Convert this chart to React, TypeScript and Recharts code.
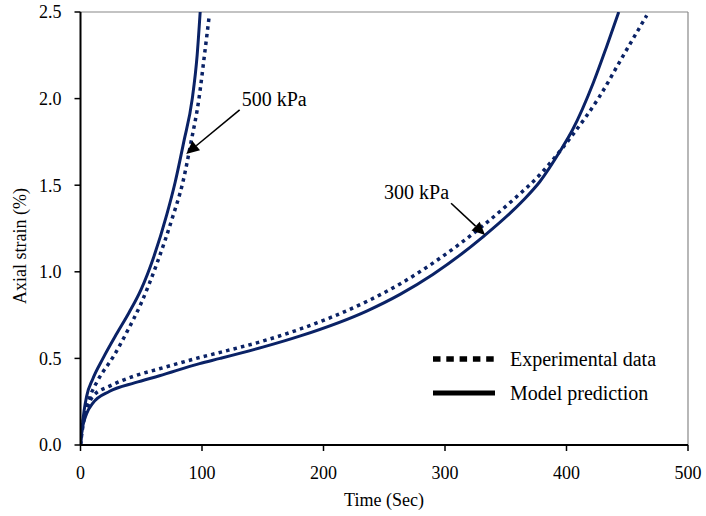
import React from 'react';
import { LineChart, Line, XAxis, YAxis, ReferenceLine, Customized } from 'recharts';

// Time (Sec) and axial strain (%)
const exp300Time = [0, 1, 5, 10, 24, 45, 65, 98, 115, 150, 181, 236, 263, 290, 331, 356, 378, 395, 405, 427, 446, 466];
const exp300Strain = [0, 0.08, 0.2, 0.28, 0.34, 0.4, 0.44, 0.505, 0.535, 0.6, 0.67, 0.83, 0.93, 1.05, 1.265, 1.415, 1.56, 1.7, 1.79, 2.01, 2.24, 2.48];

const mod300Time = [0, 1, 5, 10, 24, 45, 65, 98, 115, 150, 181, 236, 263, 290, 331, 364, 378, 395, 405, 422, 433, 443];
const mod300Strain = [0, 0.07, 0.18, 0.24, 0.31, 0.36, 0.4, 0.47, 0.5, 0.565, 0.63, 0.775, 0.87, 0.985, 1.2, 1.41, 1.52, 1.7, 1.82, 2.09, 2.3, 2.5];

const exp500Time = [0, 1, 3, 5, 7.8, 14.4, 27, 38, 50, 63, 76, 84, 91, 97.5, 102, 106];
const exp500Strain = [0, 0.06, 0.15, 0.22, 0.28, 0.375, 0.51, 0.65, 0.82, 1.05, 1.32, 1.51, 1.75, 2.0, 2.25, 2.48];

const mod500Time = [0, 1, 3, 5, 10, 18.5, 30, 40, 50, 60, 71, 78, 85, 92, 96, 98.5];
const mod500Strain = [0, 0.08, 0.2, 0.28, 0.38, 0.5, 0.645, 0.765, 0.9, 1.08, 1.33, 1.52, 1.75, 2.0, 2.25, 2.5];

const xTicks = [0, 100, 200, 300, 400, 500];
const yTicks = [0, 0.5, 1.0, 1.5, 2.0, 2.5];

const legendLabels = ['Experimental data', 'Model prediction'];
const annotation500 = { text: '500 kPa', tail: { x: 131, y: 1.935 }, tip: { x: 87, y: 1.68 } };
const annotation300 = { text: '300 kPa', tail: { x: 305, y: 1.396 }, tip: { x: 333, y: 1.212 } };

const zip = (xs: number[], ys: number[]) => xs.map((x, i) => ({ x, y: ys[i] }));

const NAVY = '#0a2266';
const FONT = '"Liberation Serif", "Times New Roman", serif';

const makeArrow = (text: string, anchor: 'start' | 'end') => (props: any) => {
  const { x1, y1, x2, y2 } = props;
  const dx = x2 - x1;
  const dy = y2 - y1;
  const len = Math.sqrt(dx * dx + dy * dy) || 1;
  const ux = dx / len;
  const uy = dy / len;
  const hl = 13;
  const hw = 6;
  const bx = x2 - ux * hl;
  const by = y2 - uy * hl;
  const nx = -uy;
  const ny = ux;
  const tx = anchor === 'start' ? x1 + 2 : x1 - 2;
  return (
    <g>
      <line x1={x1} y1={y1} x2={bx} y2={by} stroke="#000" strokeWidth={1.6} />
      <polygon
        points={`${x2},${y2} ${bx + nx * hw},${by + ny * hw} ${bx - nx * hw},${by - ny * hw}`}
        fill="#000"
      />
      <text x={tx} y={y1 - 4} textAnchor={anchor} fontFamily={FONT} fontSize={20} fill="#000">
        {text}
      </text>
    </g>
  );
};

const Overlay = () => (
  <g>
    <text x={384} y={506} textAnchor="middle" fontFamily={FONT} fontSize={18} fill="#000">
      Time (Sec)
    </text>
    <text
      x={26}
      y={246}
      textAnchor="middle"
      fontFamily={FONT}
      fontSize={18}
      fill="#000"
      transform="rotate(-90 26 246)"
    >
      Axial strain (%)
    </text>
    <line x1={433} y1={359} x2={495} y2={359} stroke="#000" strokeWidth={5.5} strokeDasharray="7.5 5.8" />
    <text x={510} y={366} fontFamily={FONT} fontSize={20} fill="#000">
      {legendLabels[0]}
    </text>
    <line x1={433} y1={393} x2={495} y2={393} stroke="#000" strokeWidth={5} />
    <text x={510} y={400} fontFamily={FONT} fontSize={20} fill="#000">
      {legendLabels[1]}
    </text>
  </g>
);

export default function App() {
  const tickStyle = { fontFamily: FONT, fontSize: 18, fill: '#000' };
  return (
    <div style={{ position: 'absolute', left: 0, top: 0 }}>
      <LineChart width={706} height={516} margin={{ top: 12, right: 18, bottom: 0, left: 0 }}>
        <XAxis
          dataKey="x"
          type="number"
          domain={[0, 500]}
          ticks={xTicks}
          allowDataOverflow
          height={71}
          tick={tickStyle}
          tickSize={6}
          tickMargin={15}
          axisLine={{ stroke: '#000', strokeWidth: 2 }}
          tickLine={{ stroke: '#000', strokeWidth: 1.5 }}
        />
        <YAxis
          type="number"
          domain={[0, 2.5]}
          ticks={yTicks}
          allowDataOverflow
          width={80.5}
          tick={tickStyle}
          tickFormatter={(v: number) => v.toFixed(1)}
          tickSize={6}
          tickMargin={13}
          axisLine={{ stroke: '#000', strokeWidth: 2 }}
          tickLine={{ stroke: '#000', strokeWidth: 1.5 }}
        />
        <ReferenceLine y={2.5} stroke="#888" strokeWidth={1.2} ifOverflow="visible" />
        <ReferenceLine x={500} stroke="#888" strokeWidth={1.2} ifOverflow="visible" />
        <Line
          data={zip(exp300Time, exp300Strain)}
          dataKey="y"
          type="monotone"
          stroke={NAVY}
          strokeWidth={3.5}
          strokeDasharray="3.5 4.2"
          dot={false}
          isAnimationActive={false}
        />
        <Line
          data={zip(mod300Time, mod300Strain)}
          dataKey="y"
          type="monotone"
          stroke={NAVY}
          strokeWidth={3}
          dot={false}
          isAnimationActive={false}
        />
        <Line
          data={zip(exp500Time, exp500Strain)}
          dataKey="y"
          type="monotone"
          stroke={NAVY}
          strokeWidth={3.5}
          strokeDasharray="3.5 4.2"
          dot={false}
          isAnimationActive={false}
        />
        <Line
          data={zip(mod500Time, mod500Strain)}
          dataKey="y"
          type="monotone"
          stroke={NAVY}
          strokeWidth={3}
          dot={false}
          isAnimationActive={false}
        />
        <ReferenceLine
          segment={[annotation500.tail, annotation500.tip]}
          ifOverflow="visible"
          shape={makeArrow(annotation500.text, 'start')}
        />
        <ReferenceLine
          segment={[annotation300.tail, annotation300.tip]}
          ifOverflow="visible"
          shape={makeArrow(annotation300.text, 'end')}
        />
        <Customized component={<Overlay />} />
      </LineChart>
    </div>
  );
}
